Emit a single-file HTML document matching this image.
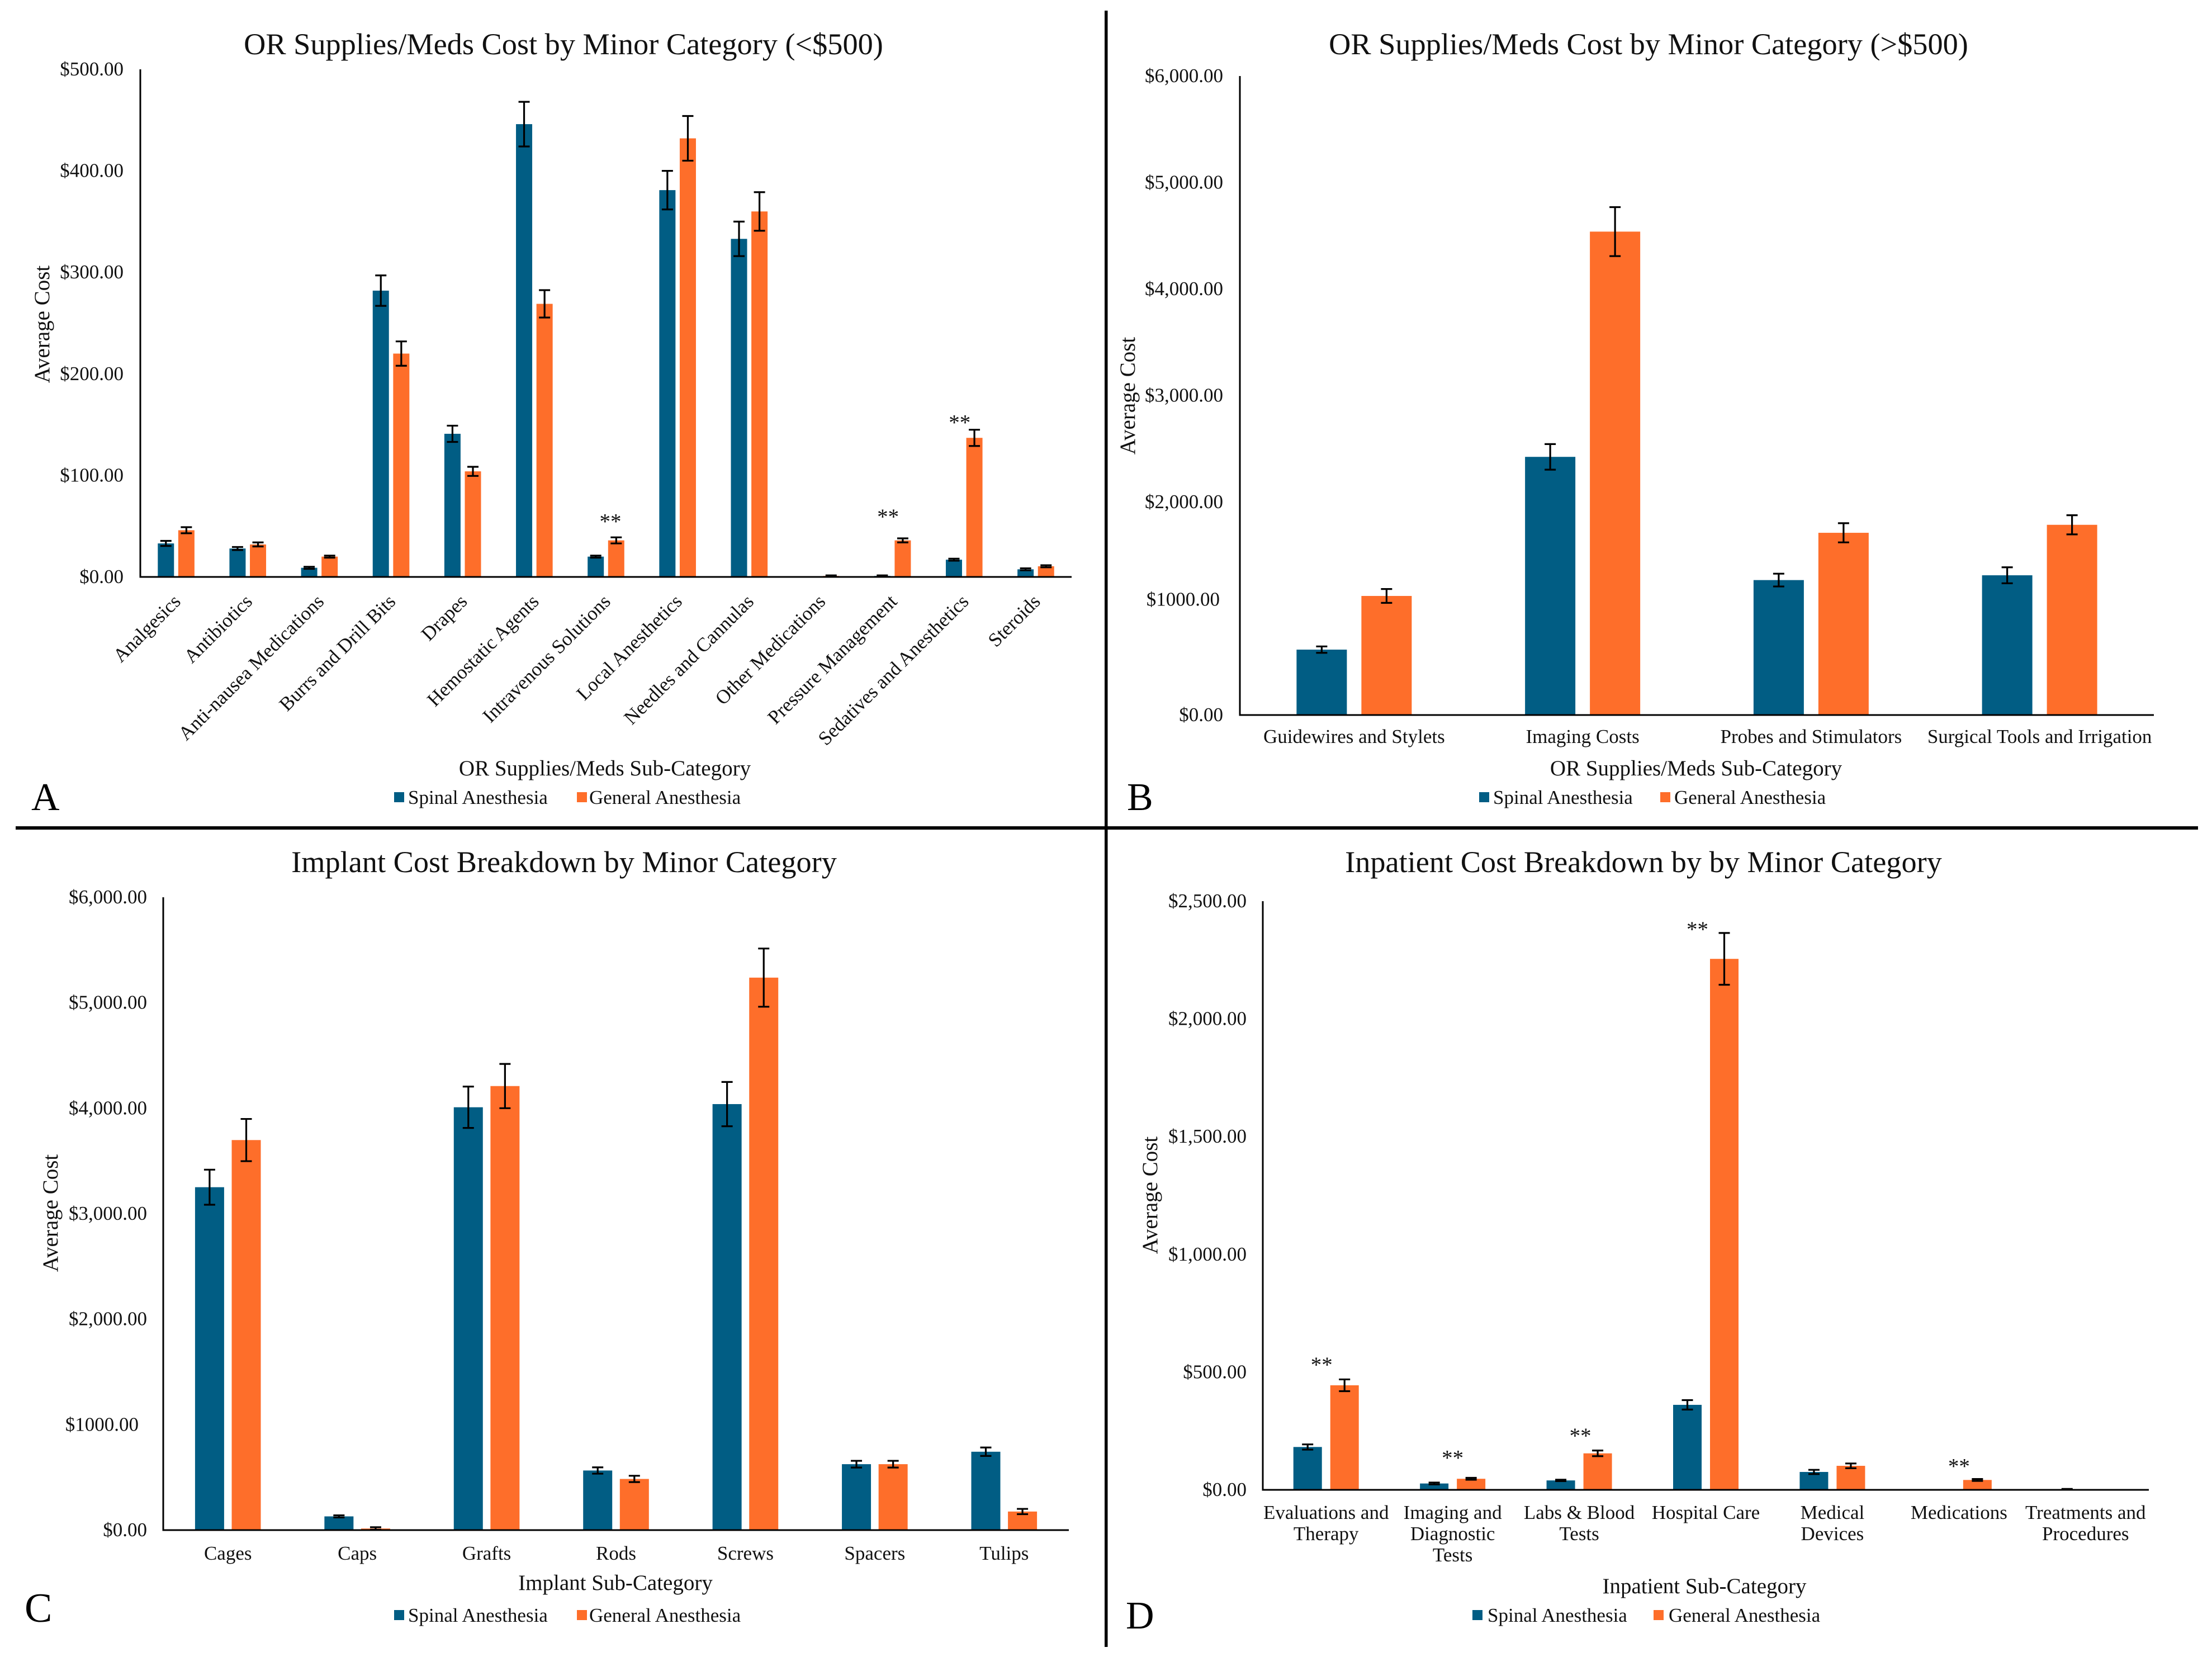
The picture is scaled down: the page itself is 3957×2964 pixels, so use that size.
<!DOCTYPE html>
<html lang="en">
<head>
<meta charset="utf-8">
<title>Cost breakdown charts</title>
<style>
html,body{margin:0;padding:0;background:#fff;}
svg{display:block;}
text{font-family:"Liberation Serif","Times New Roman",serif;fill:#111;}
.title{font-size:54.3px;text-anchor:middle;}
.axt{font-size:39px;text-anchor:middle;}
.leg{font-size:35px;}
.let{font-size:70px;fill:#000;}
</style>
</head>
<body>
<svg id="fig" xmlns="http://www.w3.org/2000/svg" width="3957" height="2964" viewBox="0 0 3957 2964">
<rect x="0" y="0" width="3957" height="2964" fill="#fff"/>
<rect x="1976" y="19" width="5.5" height="2927" fill="#000"/>
<rect x="28" y="1478" width="3904" height="6" fill="#000"/>

<g id="panel-a">
<text class="title" x="1008" y="97">OR Supplies/Meds Cost by Minor Category (&lt;$500)</text>
<text class="axt" transform="translate(88,580) rotate(-90)">Average Cost</text>
<text class="axt" x="1082" y="1387">OR Supplies/Meds Sub-Category</text>
<g>
<rect x="705" y="1417" width="18" height="18" fill="#015d84"/>
<text class="leg" x="730" y="1438">Spinal Anesthesia</text>
<rect x="1032" y="1417" width="18" height="18" fill="#fe6e2a"/>
<text class="leg" x="1054" y="1438">General Anesthesia</text>
</g>
<text class="let" x="56" y="1449">A</text>
</g>

<g id="panel-b">
<text class="title" x="2949" y="97">OR Supplies/Meds Cost by Minor Category (&gt;$500)</text>
<text class="axt" transform="translate(2030,708) rotate(-90)">Average Cost</text>
<text class="axt" x="3034" y="1387">OR Supplies/Meds Sub-Category</text>
<g>
<rect x="2646" y="1417" width="18" height="18" fill="#015d84"/>
<text class="leg" x="2671" y="1438">Spinal Anesthesia</text>
<rect x="2970" y="1417" width="18" height="18" fill="#fe6e2a"/>
<text class="leg" x="2995" y="1438">General Anesthesia</text>
</g>
<text class="let" x="2016" y="1449">B</text>
</g>

<g id="panel-c">
<text class="title" x="1009" y="1560">Implant Cost Breakdown by Minor Category</text>
<text class="axt" transform="translate(103,2170) rotate(-90)">Average Cost</text>
<text class="axt" x="1101" y="2844">Implant Sub-Category</text>
<g>
<rect x="705" y="2880" width="18" height="18" fill="#015d84"/>
<text class="leg" x="730" y="2901">Spinal Anesthesia</text>
<rect x="1032" y="2880" width="18" height="18" fill="#fe6e2a"/>
<text class="leg" x="1054" y="2901">General Anesthesia</text>
</g>
<text class="let" x="44" y="2901" style="font-size:74px">C</text>
</g>

<g id="panel-d">
<text class="title" x="2940" y="1560">Inpatient Cost Breakdown by by Minor Category</text>
<text class="axt" transform="translate(2070,2138) rotate(-90)">Average Cost</text>
<text class="axt" x="3049" y="2850">Inpatient Sub-Category</text>
<g>
<rect x="2634" y="2880" width="18" height="18" fill="#015d84"/>
<text class="leg" x="2661" y="2901">Spinal Anesthesia</text>
<rect x="2958" y="2880" width="18" height="18" fill="#fe6e2a"/>
<text class="leg" x="2985" y="2901">General Anesthesia</text>
</g>
<text class="let" x="2014" y="2913">D</text>
</g>
</svg>

<script>
// Panel A data
const aCategories = ["Analgesics","Antibiotics","Anti-nausea Medications","Burrs and Drill Bits","Drapes","Hemostatic Agents","Intravenous Solutions","Local Anesthetics","Needles and Cannulas","Other Medications","Pressure Management","Sedatives and Anesthetics","Steroids"];
const aSpinal = [33,28,9,282,141,446,20,381,333,0,1,17,7.5];
const aSpinalErr = [2.5,1.5,1,15,8,22,1,19,17,0,0.5,1,1];
const aGeneral = [46,32,20,220,104,269,36,432,360,1,36,137,10.5];
const aGeneralErr = [3,2,1,12,4.5,13.5,3,22,19,0.5,2,8,1];
const aTickValues = [0,100,200,300,400,500];
const aTickLabels = ["$0.00","$100.00","$200.00","$300.00","$400.00","$500.00"];
const aSigCategories = [6,10,11];
const aSigLevels = [56.5,61,154];

// Panel B data
const bCategories = ["Guidewires and Stylets","Imaging Costs","Probes and Stimulators","Surgical Tools and Irrigation"];
const bSpinal = [614,2424,1267,1312];
const bSpinalErr = [30,120,60,75];
const bGeneral = [1118,4539,1711,1786];
const bGeneralErr = [65,230,90,90];
const bTickValues = [0,1000,2000,3000,4000,5000,6000];
const bTickLabels = ["$0.00","$1000.00","$2,000.00","$3,000.00","$4,000.00","$5,000.00","$6,000.00"];
const bSigCategories = [];
const bSigLevels = [];

// Panel C data
const cCategories = ["Cages","Caps","Grafts","Rods","Screws","Spacers","Tulips"];
const cSpinal = [3251,130,4009,565,4039,625,743];
const cSpinalErr = [166,10,196,30,210,32,40];
const cGeneral = [3698,15,4210,485,5238,625,176];
const cGeneralErr = [200,12,210,30,276,32,25];
const cTickValues = [0,1000,2000,3000,4000,5000,6000];
const cTickLabels = ["$0.00","$1000.00","$2,000.00","$3,000.00","$4,000.00","$5,000.00","$6,000.00"];
const cSigCategories = [];
const cSigLevels = [];

// Panel D data
const dCategories = ["Evaluations and|Therapy","Imaging and|Diagnostic|Tests","Labs & Blood|Tests","Hospital Care","Medical|Devices","Medications","Treatments and|Procedures"];
const dSpinal = [182,27,40,361,76,0,3];
const dSpinalErr = [11,4,3,20,9,0,1];
const dGeneral = [444,47,155,2255,102,42,0];
const dGeneralErr = [25,4,12,110,10,4,0];
const dTickValues = [0,500,1000,1500,2000,2500];
const dTickLabels = ["$0.00","$500.00","$1,000.00","$1,500.00","$2,000.00","$2,500.00"];
const dSigCategories = [0,1,2,3,5];
const dSigLevels = [539,144,238,2388,108];

const SVGNS = "http://www.w3.org/2000/svg";
const SPINAL = "#015d84";
const GENERAL = "#fe6e2a";

function svgEl(parent, tag) {
  const el = document.createElementNS(SVGNS, tag);
  parent.appendChild(el);
  return el;
}

function setAll(el, props) {
  for (const k in props) el.setAttribute(k, props[k]);
}

function drawChart(panelId, key, d, g) {
  const panel = document.getElementById(panelId);
  const maxV = d.ticks[d.ticks.length - 1];
  const yScale = v => g.yBase - (v / maxV) * (g.yBase - g.yTop);
  const band = (g.xRight - g.xLeft) / d.categories.length;
  const xCenter = i => g.xLeft + band * (i + 0.5);

  // ticks
  d.ticks.forEach((t, i) => {
    const label = svgEl(panel, "text");
    
    
    const nudge = g.nudge && g.nudge[i] ? g.nudge[i] : [0, 0];
    setAll(label, {x: g.tickRight + nudge[0], y: yScale(t) + 11 + nudge[1], "text-anchor": "end", "font-size": 35});
    label.textContent = d.tickLabels[i];
  });

  // bars and error bars
  d.categories.forEach((c, i) => {
    [[d.spinal, d.spinalErr, SPINAL, -1, 'spinal'], [d.general, d.generalErr, GENERAL, 1, 'general']].forEach(s => {
      const v = s[0][i], e = s[1][i];
      if (v <= 0) return;
      const cx = xCenter(i) + s[3] * g.offset;
      const bar = svgEl(panel, "rect");
      
      
      setAll(bar, {x: cx - g.barW / 2, y: yScale(v), width: g.barW, height: g.yBase - yScale(v), fill: s[2]});
      const err = svgEl(panel, "path");
      
      
      const t = yScale(v + e), b = yScale(Math.max(v - e, 0)), cap = g.cap / 2;
      setAll(err, {d: "M" + (cx - cap) + " " + t + "H" + (cx + cap) + "M" + cx + " " + t + "V" + b + "M" + (cx - cap) + " " + b + "H" + (cx + cap), stroke: "#000", "stroke-width": 3.2, fill: "none"});
    });

    // category labels
    const lines = c.split("|");
    if (g.rotate) {
      const lab = svgEl(panel, "text");
      
      
      const px = xCenter(i) + g.labDx, py = g.labY;
      setAll(lab, {x: px, y: py, "text-anchor": "end", "font-size": 35, transform: "rotate(-45 " + px + " " + py + ")"});
      lab.textContent = c;
    } else {
      lines.forEach((ln, j) => {
        const lab = svgEl(panel, "text");
        
        
        setAll(lab, {x: xCenter(i), y: g.labY + j * 38, "text-anchor": "middle", "font-size": 35});
        lab.textContent = ln;
      });
    }
  });

  // significance markers
  d.sigCategories.forEach((ci, i) => {
    const star = svgEl(panel, "text");
    
    
    const dx = g.sigDx && g.sigDx[i] ? g.sigDx[i] : 0;
    setAll(star, {x: xCenter(ci) + dx, y: yScale(d.sigLevels[i]) + 16, "text-anchor": "middle", "font-size": 39});
    star.textContent = "**";
  });

  // axes
  const yAxis = svgEl(panel, "rect");
  
  
  setAll(yAxis, {x: g.xLeft - 1.5, y: g.yTop, width: 3, height: g.yBase - g.yTop + 1.5, fill: "#000"});
  const xAxis = svgEl(panel, "rect");
  
  
  setAll(xAxis, {x: g.xLeft - 1.5, y: g.yBase - 1.5, width: g.xRight - g.xLeft + 1.5, height: 3, fill: "#000"});
}

drawChart("panel-a", "a", {categories: aCategories, spinal: aSpinal, spinalErr: aSpinalErr, general: aGeneral, generalErr: aGeneralErr, ticks: aTickValues, tickLabels: aTickLabels, sigCategories: aSigCategories, sigLevels: aSigLevels},
  {xLeft: 251, xRight: 1917, yBase: 1032, yTop: 124, tickRight: 221, offset: 18.3, barW: 29, cap: 20, rotate: true, labDx: 10, labY: 1078, sigDx: [8, -8, -8]});
drawChart("panel-b", "b", {categories: bCategories, spinal: bSpinal, spinalErr: bSpinalErr, general: bGeneral, generalErr: bGeneralErr, ticks: bTickValues, tickLabels: bTickLabels, sigCategories: bSigCategories, sigLevels: bSigLevels},
  {xLeft: 2218, xRight: 3853, yBase: 1279, yTop: 136, tickRight: 2188, offset: 58, barW: 90, cap: 20, labY: 1329, nudge: {1: [-6, -16]}});
drawChart("panel-c", "c", {categories: cCategories, spinal: cSpinal, spinalErr: cSpinalErr, general: cGeneral, generalErr: cGeneralErr, ticks: cTickValues, tickLabels: cTickLabels, sigCategories: cSigCategories, sigLevels: cSigLevels},
  {xLeft: 292, xRight: 1912, yBase: 2737, yTop: 1605, tickRight: 263, offset: 32.8, barW: 52, cap: 20, labY: 2790, nudge: {1: [-15, 0]}});
drawChart("panel-d", "d", {categories: dCategories, spinal: dSpinal, spinalErr: dSpinalErr, general: dGeneral, generalErr: dGeneralErr, ticks: dTickValues, tickLabels: dTickLabels, sigCategories: dSigCategories, sigLevels: dSigLevels},
  {xLeft: 2259, xRight: 3844, yBase: 2665, yTop: 1612, tickRight: 2230, offset: 33, barW: 51, cap: 20, labY: 2717, sigDx: [-8, 0, 2, -15, 0]});
</script>
</body>
</html>
